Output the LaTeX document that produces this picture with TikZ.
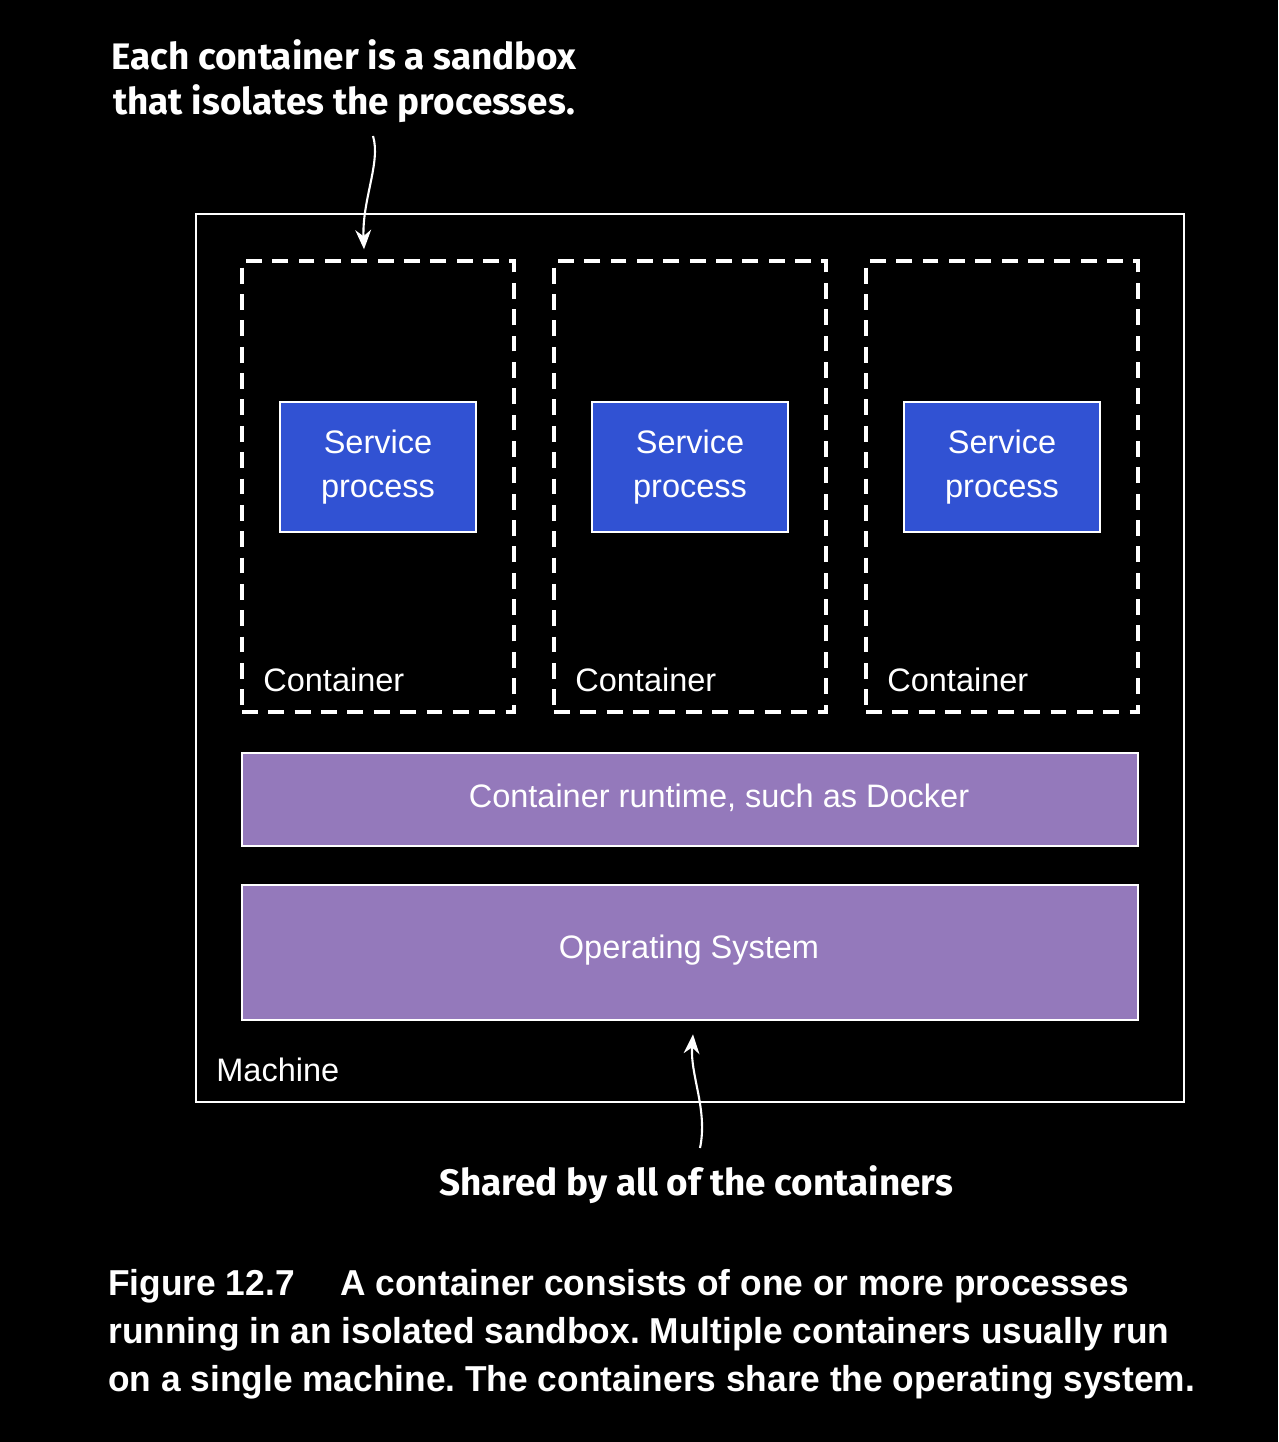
\documentclass[tikz,border=0pt]{standalone}
\usepackage{fontspec}
\setmainfont{Liberation Sans}
\newfontfamily\notafont{Fira Sans}
\newfontfamily\piefont[FakeStretch=0.98]{Liberation Sans}
\usetikzlibrary{positioning,calc,arrows.meta}
\definecolor{azulproc}{HTML}{3152D3}
\definecolor{moradocapa}{HTML}{9479BB}
\frenchspacing
\tikzset{
	caja/.style={draw=white, line width=1.6pt, fill=azulproc, text=white, align=center, minimum width=3.92cm, minimum height=2.6cm, font=\fontsize{18.5}{25}\selectfont},
	contenedor/.style={draw=white, line width=2pt, dash pattern=on 9pt off 6pt, minimum width=5.44cm, minimum height=9.02cm},
	capa/.style={draw=white, line width=1.6pt, fill=moradocapa, minimum width=17.92cm},
	etiqueta/.style={text=white, anchor=west, inner sep=0pt, font=\fontsize{18.5}{22}\selectfont},
	nota/.style={text=white, align=center, inner sep=0pt, font=\notafont\bfseries\fontsize{21}{26}\selectfont},
	flecha/.style={white, line width=1.2pt, -{Stealth[length=11pt,width=9pt]}},
}
\begin{document}
\begin{tikzpicture}[x=0.02cm, y=-0.02cm]
	% Fondo
		\fill[black] (0,0) rectangle (1278,1442);
	% Maquina
		\node[draw=white, line width=1.4pt, minimum width=19.76cm, minimum height=17.76cm] (maquina) at (690,658) {};
		\node[etiqueta] (lmaquina) at (216,1070) {Machine};
	% Contenedores con su proceso
		\foreach \i/\x in {1/378, 2/690, 3/1002}{
			\node[contenedor] (cont\i) at (\x,486.5) {};
			\node[caja] (serv\i) at (\x,467) {Service\\process};
			\node[etiqueta] (lcont\i) at (\x-115,680) {Container};
		}
	% Capas compartidas
		\node[capa, minimum height=1.86cm] (runtime) at (690,799.5) {};
		\node[etiqueta, anchor=center] (truntime) at (719,798) {Container runtime, such as Docker};
		\node[capa, minimum height=2.7cm] (so) at (690,952.5) {};
		\node[etiqueta, anchor=center] (tso) at (689,950) {Operating System};
	% Notas
		\node[nota] (nota) at (344,81) {Each container is a sandbox\\that isolates the processes.};
		\node[nota] (compartido) at (696,1185) {Shared by all of the containers};
	% Flechas
		\coordinate (colaA) at (373,136);
		\draw[flecha] (colaA) .. controls (381,162) and (362,200) .. ($(cont1.north)+(-14,-10)$);
		\coordinate (colaB) at (700,1148);
		\draw[flecha] (colaB) .. controls (708,1110) and (690,1075) .. ($(so.south)+(3,13)$);
	% Pie de figura
		\node[text=white, anchor=north west, align=left, inner sep=0pt, font=\piefont\bfseries\fontsize{20.5}{27.3}\selectfont] (pie) at (108,1269)
			{Figure 12.7\hspace{26pt}A container consists of one or more processes\\
			running in an isolated sandbox. Multiple containers usually run\\
			on a single machine. The containers share the operating system.};
\end{tikzpicture}
\end{document}
